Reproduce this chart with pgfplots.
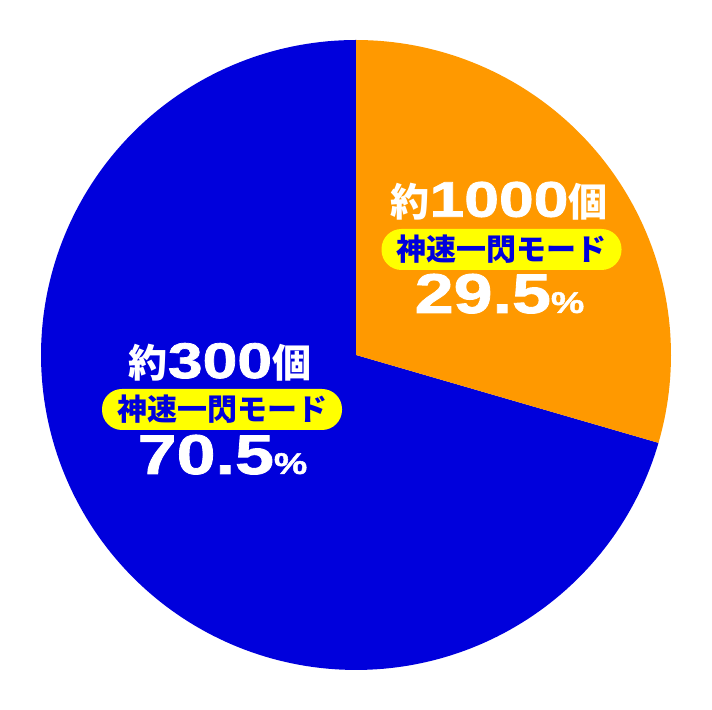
\documentclass[border=0pt]{standalone}
\usepackage{pgfplots}
\pgfplotsset{compat=1.18}
\usepackage{pgfplotstable}
\usepackage{fontspec}
\setmainfont{Liberation Sans}
\newfontfamily\cjk{Noto Sans CJK JP}
\newfontfamily\numfont{Liberation Sans}[FakeStretch=1.25, FakeBold=1.5]
\definecolor{pieblue}{RGB}{0,0,220}
\definecolor{pieorange}{RGB}{255,153,0}
\definecolor{tagyellow}{RGB}{255,255,0}

% share of each mode (percent)
\pgfplotstableread{
count share
1000 29.5
300 70.5
}\piedata

\newcommand{\kan}{\cjk\bfseries\fontsize{19.5bp}{20bp}\selectfont}
\newcommand{\dig}{\numfont\bfseries\fontsize{25bp}{26bp}\selectfont}
\newcommand{\pct}{\numfont\bfseries\fontsize{28bp}{29bp}\selectfont}
\newcommand{\psign}{\numfont\bfseries\fontsize{15bp}{16bp}\selectfont}
\newcommand{\tagf}{\cjk\bfseries\fontsize{15bp}{16bp}\selectfont}

\begin{document}
\begin{tikzpicture}
\pgfplotstablegetelem{0}{share}\of\piedata
\pgfmathsetmacro{\angA}{90-3.6*\pgfplotsretval}
\begin{axis}[hide axis, scale only axis, width=356bp, height=355bp,
  xmin=0, xmax=712, ymin=0, ymax=710, clip=false]
\path (axis cs:0,0) rectangle (axis cs:712,710);
% blue sector
\addplot[fill=pieblue, draw=none, domain=-270:\angA, samples=200, variable=\t]
  ({356+315*cos(t)},{355+315*sin(t)}) -- (axis cs:356,355) -- cycle;
% orange sector
\addplot[fill=pieorange, draw=none, domain=\angA:90, samples=80, variable=\t]
  ({356+315*cos(t)},{355+315*sin(t)}) -- (axis cs:356,355) -- cycle;

% right labels
\node[anchor=base, text=white, inner sep=0pt] at (axis cs:499,493.3)
  {{\kan 約}{\dig 1000}{\kan 個}};
\node[fill=tagyellow, rounded corners=10bp, minimum width=120bp, minimum height=20.5bp,
  inner sep=0pt, text=pieblue] at (axis cs:501.5,460.5) {\tagf 神速一閃モード};
\node[anchor=base, text=white, inner sep=0pt] at (axis cs:499.5,397)
  {{\pct 29.5}{\psign\%}};

% left labels
\node[anchor=base, text=white, inner sep=0pt] at (axis cs:220,332)
  {{\kan 約}{\dig 300}{\kan 個}};
\node[fill=tagyellow, rounded corners=10bp, minimum width=120bp, minimum height=20.5bp,
  inner sep=0pt, text=pieblue] at (axis cs:222,300.5) {\tagf 神速一閃モード};
\node[anchor=base, text=white, inner sep=0pt] at (axis cs:222.5,236)
  {{\pct 70.5}{\psign\%}};
\end{axis}
\end{tikzpicture}
\end{document}
